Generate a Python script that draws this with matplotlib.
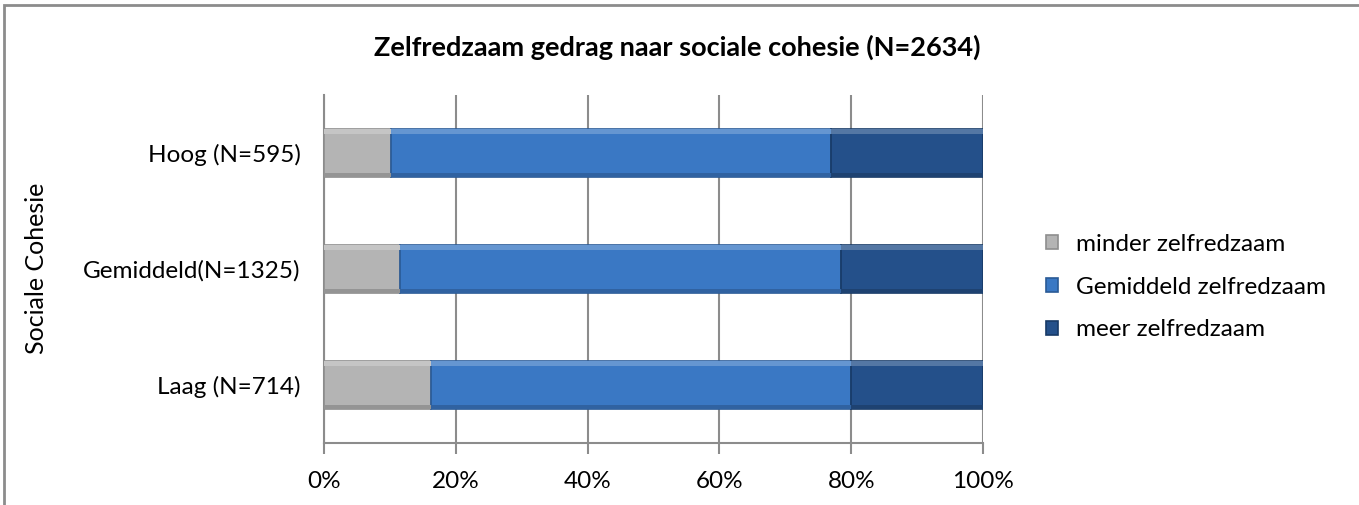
import matplotlib
matplotlib.use("Agg")
import matplotlib.pyplot as plt
from matplotlib.patches import Rectangle
import matplotlib.colors as mcolors
import numpy as np

categories = ["Laag (N=714)", "Gemiddeld(N=1325)", "Hoog (N=595)"]
series_names = ["minder zelfredzaam", "Gemiddeld zelfredzaam", "meer zelfredzaam"]
minder = [16.2, 11.5, 10.2]
gemiddeld = [63.7, 67.0, 66.7]
meer = [20.1, 21.5, 23.1]
colors = ["#B4B4B4", "#3A78C4", "#24508A"]
edges = ["#8E8E8E", "#2A5A96", "#173A66"]
xticks = [0, 20, 40, 60, 80, 100]
title = "Zelfredzaam gedrag naar sociale cohesie (N=2634)"
ylabel = "Sociale Cohesie"

plt.rcParams['font.family'] = ['Lato', 'DejaVu Sans']

fig = plt.figure(figsize=(13.59, 5.05), dpi=100)
ax = fig.add_axes([324/1359, 1-443/505, (983-324)/1359, (443-95)/505])


def shade(c, f):
    r, g, b = mcolors.to_rgb(c)
    if f > 0:
        return (r + (1 - r) * f, g + (1 - g) * f, b + (1 - b) * f)
    return (r * (1 + f), g * (1 + f), b * (1 + f))


y = np.arange(len(categories))
left = np.zeros(len(categories))
for vals, c, e, name in zip([minder, gemiddeld, meer], colors, edges, series_names):
    bars = ax.barh(y, vals, left=left, height=0.41, color=c, edgecolor=e, linewidth=1.2,
                   label=name, zorder=3)
    for b in bars:
        x0, y0, w, h = b.get_x(), b.get_y(), b.get_width(), b.get_height()
        ax.add_patch(Rectangle((x0, y0 + h * 0.9), w, h * 0.1, facecolor=shade(c, 0.22),
                               edgecolor="none", zorder=3.5))
        ax.add_patch(Rectangle((x0, y0), w, h * 0.08, facecolor=shade(c, -0.18),
                               edgecolor="none", zorder=3.5))
    left = left + np.array(vals)

ax.set_xlim(0, 100)
ax.set_ylim(-0.5, 2.5)
ax.set_xticks(xticks)
ax.set_xticklabels([f"{t}%" for t in xticks], fontsize=17.5)
ax.set_yticks(y)
ax.set_yticklabels(categories, fontsize=17.5)
ax.tick_params(axis='y', length=0, pad=17)
ax.tick_params(axis='x', length=8, color="#8C8C8C", width=1.5, pad=12)
ax.xaxis.grid(True, color="#8C8C8C", linewidth=1.5, zorder=0)
for s in ["top", "right"]:
    ax.spines[s].set_visible(False)
for s in ["left", "bottom"]:
    ax.spines[s].set_color("#8C8C8C")
    ax.spines[s].set_linewidth(1.5)

fig.text(0.5 * (372 + 982) / 1359, 1 - 47/505, title, ha="center", va="center",
         fontsize=19.5, fontweight="bold")
fig.text(37/1359, 1 - 268/505, ylabel, rotation=90, ha="center", va="center", fontsize=18)

handles, labels = ax.get_legend_handles_labels()
leg = fig.legend(handles, labels, loc="center left", bbox_to_anchor=(1036/1359, 1 - 287/505),
                 frameon=False, fontsize=17.5, handlelength=0.5, handleheight=0.5,
                 handletextpad=0.75, labelspacing=0.9, borderaxespad=0)

fig.patches.append(Rectangle((4/1359, -0.1), 1.2, (1 - 5/505) + 0.1, transform=fig.transFigure,
                             fill=False, edgecolor="#8C8C8C", linewidth=2))

fig.savefig("out.png", dpi=100)
